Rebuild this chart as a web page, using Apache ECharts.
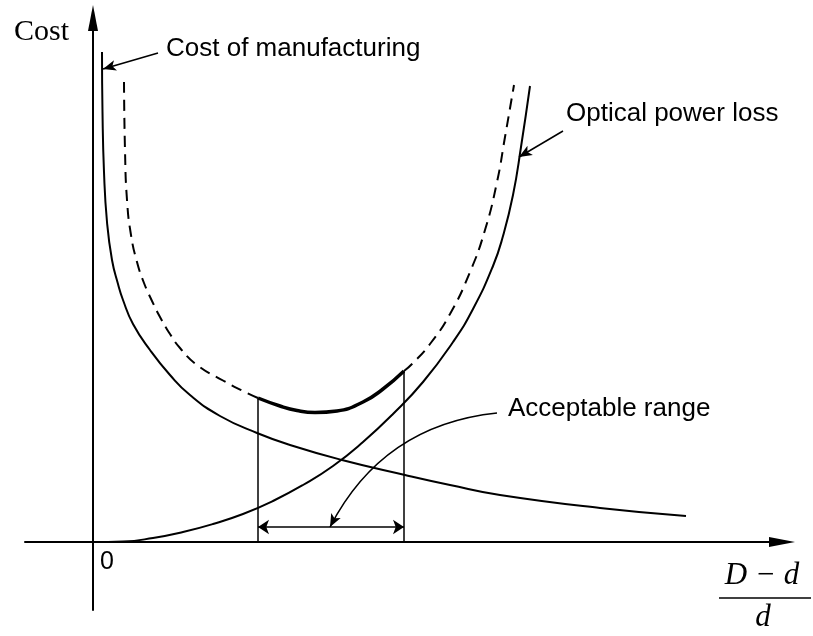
<!DOCTYPE html>
<html>
<head>
<meta charset="utf-8">
<script src="https://cdn.jsdelivr.net/npm/echarts@6/dist/echarts.min.js"></script>
<style>
  html, body { margin: 0; padding: 0; background: #fff; }
  #chart { width: 813px; height: 636px; }
</style>
</head>
<body>
<div id="chart"></div>
<script>
// curves, arbitrary units (x = (D-d)/d, y = cost)
const manufacturing = [
  [0.09, 4.90], [0.095, 4.30], [0.11, 3.70], [0.14, 3.20], [0.19, 2.82], [0.25, 2.58],
  [0.30, 2.42], [0.40, 2.18], [0.57, 1.92], [0.77, 1.67], [0.97, 1.47], [1.27, 1.26],
  [1.64, 1.09], [1.97, 0.97], [2.49, 0.82], [3.12, 0.67], [3.57, 0.57], [4.07, 0.47],
  [5.07, 0.34], [5.93, 0.26]
];
const powerLoss = [
  [0, 0], [0.3, 0.005], [0.6, 0.04], [0.9, 0.10], [1.2, 0.18], [1.5, 0.28], [1.8, 0.41],
  [2.1, 0.57], [2.4, 0.76], [2.7, 1.00], [3.0, 1.28], [3.3, 1.60], [3.6, 2.00], [3.8, 2.33],
  [4.0, 2.76], [4.1, 3.06], [4.2, 3.47], [4.28, 3.95], [4.37, 4.56]
];
// total cost: dashed outside the acceptable range, thick inside
const totalLeft = [
  [0.31, 4.60], [0.32, 3.92], [0.34, 3.42], [0.38, 3.07], [0.44, 2.80], [0.51, 2.59],
  [0.59, 2.41], [0.67, 2.25], [0.77, 2.08], [0.87, 1.94], [1.04, 1.77], [1.30, 1.615],
  [1.50, 1.51], [1.65, 1.44]
];
const totalRange = [
  [1.65, 1.44], [1.87, 1.36], [2.04, 1.315], [2.22, 1.295], [2.44, 1.31], [2.70, 1.40],
  [2.90, 1.53], [3.11, 1.71]
];
const totalRight = [
  [3.11, 1.71], [3.19, 1.78], [3.37, 1.98], [3.57, 2.28], [3.77, 2.70], [3.92, 3.12],
  [4.04, 3.60], [4.12, 4.05], [4.21, 4.57]
];
const rangeStart = 1.65;
const rangeEnd = 3.11;
const rangeArrowY = 0.15;

// annotation arrows [from, to]
const costPointer = [[0.65, 4.89], [0.10, 4.73]];
const lossPointer = [[4.70, 4.11], [4.26, 3.85]];
const rangePointer = [[4.04, 1.29], [2.37, 0.15]];

const labels = {
  cost: 'Cost',
  manufacturing: 'Cost of manufacturing',
  loss: 'Optical power loss',
  range: 'Acceptable range',
  zero: '0',
  num: 'D − d',
  den: 'd'
};

const chart = echarts.init(document.getElementById('chart'));

const curve = (data, width, type) => ({
  type: 'line', data: data, showSymbol: false, smooth: true, silent: true,
  lineStyle: { color: '#000', width: width, type: type || 'solid' }
});

const sans = '26px "Liberation Sans", Arial, sans-serif';
const serif = '"Liberation Serif", "Times New Roman", serif';

chart.setOption({
  animation: false,
  backgroundColor: '#fff',
  grid: { left: 25, right: 31, top: 18, bottom: 26 },
  xAxis: {
    type: 'value', min: -0.68, max: 6.89,
    axisLine: { lineStyle: { color: '#000', width: 2 }, symbol: ['none', 'triangle'], symbolSize: [10, 26] },
    axisTick: { show: false }, axisLabel: { show: false }, splitLine: { show: false }
  },
  yAxis: {
    type: 'value', min: -0.68, max: 5.24,
    axisLine: { onZero: true, lineStyle: { color: '#000', width: 2 }, symbol: ['none', 'triangle'], symbolSize: [10, 26] },
    axisTick: { show: false }, axisLabel: { show: false }, splitLine: { show: false }
  },
  series: [
    curve(manufacturing, 2),
    curve(powerLoss, 2),
    curve(totalLeft, 2, [11, 7]),
    curve(totalRange, 3.5),
    curve(totalRight, 2, [11, 7]),
    curve([[rangeStart, 0], [rangeStart, totalRange[0][1]]], 1.5),
    curve([[rangeEnd, 0], [rangeEnd, totalRange[totalRange.length - 1][1]]], 1.5),
    {
      type: 'lines', coordinateSystem: 'cartesian2d', silent: true,
      symbol: ['arrow', 'arrow'], symbolSize: 11,
      lineStyle: { color: '#000', width: 1.5, opacity: 1 },
      data: [{ coords: [[rangeStart, rangeArrowY], [rangeEnd, rangeArrowY]] }]
    },
    {
      type: 'lines', coordinateSystem: 'cartesian2d', silent: true,
      symbol: ['none', 'arrow'], symbolSize: [0, [8, 13]],
      lineStyle: { color: '#000', width: 1.5, opacity: 1 },
      data: [{ coords: costPointer }, { coords: lossPointer }]
    },
    {
      type: 'lines', coordinateSystem: 'cartesian2d', silent: true,
      symbol: ['none', 'arrow'], symbolSize: [0, [8, 13]],
      lineStyle: { color: '#000', width: 1.5, opacity: 1, curveness: -0.27 },
      data: [{ coords: rangePointer }]
    }
  ],
  graphic: [
    { type: 'text', left: 14, top: 17, style: { text: labels.cost, font: '30px ' + serif, fill: '#000' } },
    { type: 'text', left: 166, top: 36, style: { text: labels.manufacturing, font: sans, fill: '#000' } },
    { type: 'text', left: 566, top: 101, style: { text: labels.loss, font: sans, fill: '#000' } },
    { type: 'text', left: 508, top: 396, style: { text: labels.range, font: sans, fill: '#000' } },
    { type: 'text', left: 100, top: 550, style: { text: labels.zero, font: '25px "Liberation Sans", Arial, sans-serif', fill: '#000' } },
    { type: 'text', x: 762, y: 560, style: { text: labels.num, font: 'italic 31px ' + serif, fill: '#000', align: 'center' } },
    { type: 'line', shape: { x1: 719, y1: 598, x2: 811, y2: 598 }, style: { stroke: '#000', lineWidth: 1.5 } },
    { type: 'text', x: 763, y: 602, style: { text: labels.den, font: 'italic 31px ' + serif, fill: '#000', align: 'center' } }
  ]
});
</script>
</body>
</html>
